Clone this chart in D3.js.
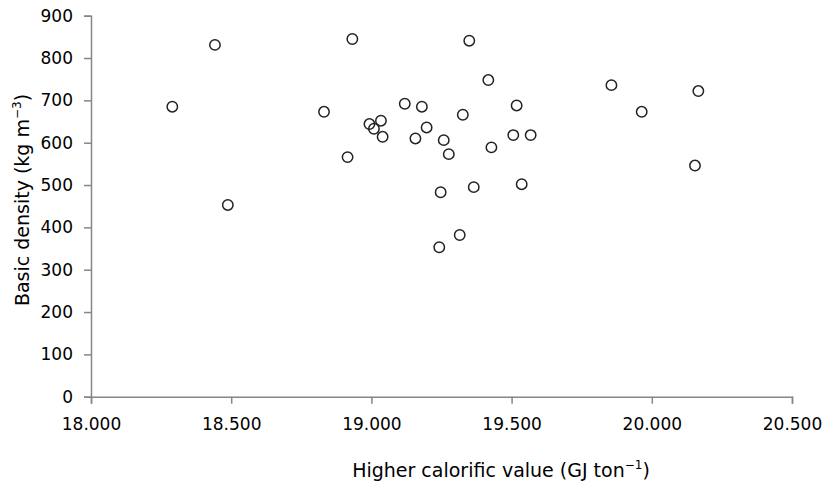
<!DOCTYPE html>
<html>
<head>
<meta charset="utf-8">
<script src="https://cdn.jsdelivr.net/npm/d3@7"></script>
<style>
  body { margin: 0; background: #fff; }
  text { font-family: "DejaVu Sans", Verdana, sans-serif; fill: #000; }
</style>
</head>
<body>
<script>
// higher calorific value (GJ/ton) vs basic density (kg/m3)
var hcv = [18.932, 19.349, 19.417, 18.831, 19.119, 19.180, 19.518, 19.326,
           18.993, 19.034, 19.009, 19.040, 19.197, 19.157, 19.258, 19.276,
           19.506, 19.568, 19.428, 18.915, 19.247, 19.365, 19.536, 19.315,
           19.242, 19.856, 19.964, 20.166, 20.154, 18.442, 18.290, 18.488];
var density = [845, 841, 748, 673, 692, 685, 688, 666,
               644, 652, 633, 614, 636, 610, 606, 573,
               618, 618, 589, 566, 483, 495, 502, 382,
               353, 736, 673, 722, 546, 831, 685, 453];
var xTicks = [18, 18.5, 19, 19.5, 20, 20.5];
var yTicks = [0, 100, 200, 300, 400, 500, 600, 700, 800, 900];

var width = 838, height = 483;
var mLeft = 91, mRight = 792, mTop = 15.7, mBottom = 396.7;

var svg = d3.select("body").append("svg")
    .attr("width", width)
    .attr("height", height);

var x = d3.scaleLinear().domain([18, 20.5]).range([mLeft, mRight]);
var y = d3.scaleLinear().domain([0, 900]).range([mBottom, mTop]);

var xAxis = svg.append("g")
    .attr("transform", "translate(0," + mBottom + ")")
    .call(d3.axisBottom(x).tickValues(xTicks).tickSize(7).tickPadding(14)
      .tickFormat(d3.format(".3f")));
var yAxis = svg.append("g")
    .attr("transform", "translate(" + mLeft + ",0)")
    .call(d3.axisLeft(y).tickValues(yTicks).tickSize(7).tickPadding(11));

[xAxis, yAxis].forEach(function(g) {
  g.select(".domain").attr("stroke", "#868686").attr("stroke-width", 1.5);
  g.selectAll(".tick line").attr("stroke", "#868686").attr("stroke-width", 1.5);
  g.selectAll(".tick text").attr("font-size", 17).attr("fill", "#000");
});

svg.append("g").selectAll("circle")
  .data(hcv)
  .enter()
  .append("circle")
  .attr("cx", function(d) { return x(d); })
  .attr("cy", function(d, i) { return y(density[i]); })
  .attr("r", 5.2)
  .attr("fill", "none")
  .attr("stroke", "#222")
  .attr("stroke-width", 1.5);

var xt = svg.append("text")
    .attr("x", 501)
    .attr("y", 477)
    .attr("text-anchor", "middle")
    .attr("font-size", 19);
xt.append("tspan").text("Higher calorific value (GJ ton");
xt.append("tspan").attr("font-size", 12).attr("dy", -8).text("\u22121");
xt.append("tspan").attr("dy", 8).text(")");

var yt = svg.append("text")
    .attr("transform", "translate(29,200) rotate(-90)")
    .attr("text-anchor", "middle")
    .attr("font-size", 19);
yt.append("tspan").text("Basic density (kg m");
yt.append("tspan").attr("font-size", 12).attr("dy", -8).text("\u22123");
yt.append("tspan").attr("dy", 8).text(")");
</script>
</body>
</html>
